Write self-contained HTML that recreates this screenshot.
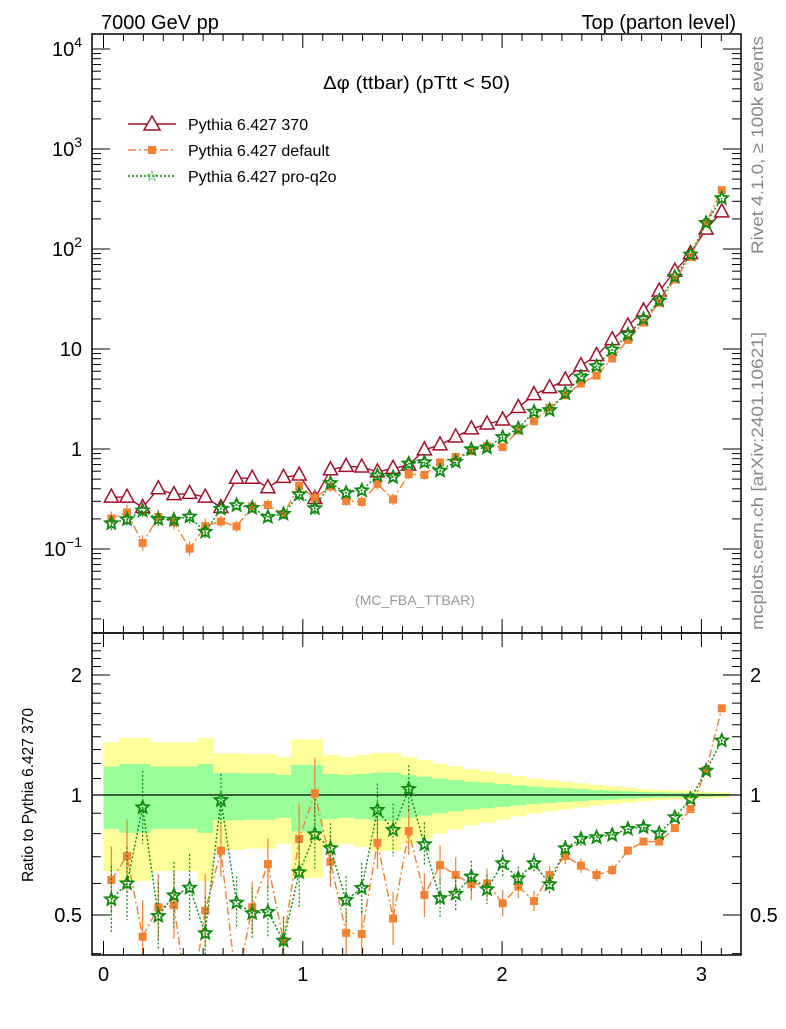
<!DOCTYPE html>
<html><head><meta charset="utf-8"><style>
body{margin:0;background:#fff;width:786px;height:1024px;overflow:hidden}
svg text{font-family:"Liberation Sans",sans-serif}
</style></head><body>
<svg id="c" width="786" height="1024" viewBox="0 0 786 1024" xmlns="http://www.w3.org/2000/svg">
<text x="101" y="29" font-size="20">7000 GeV pp</text>
<text x="736" y="29" font-size="20" text-anchor="end">Top (parton level)</text>
<text x="323" y="89" font-size="18" textLength="187" lengthAdjust="spacingAndGlyphs">Δφ (ttbar) (pTtt &lt; 50)</text>
<text x="415" y="605" font-size="14" fill="#999" text-anchor="middle">(MC_FBA_TTBAR)</text>
<text transform="translate(763,145) rotate(-90)" font-size="17" fill="#888" text-anchor="middle" textLength="218" lengthAdjust="spacingAndGlyphs">Rivet 4.1.0, ≥ 100k events</text>
<text transform="translate(763,481) rotate(-90)" font-size="17" fill="#888" text-anchor="middle" textLength="298" lengthAdjust="spacingAndGlyphs">mcplots.cern.ch [arXiv:2401.10621]</text>
<text transform="translate(33,795) rotate(-90)" font-size="15.5" text-anchor="middle">Ratio to Pythia 6.427 370</text>
<g>
<g><line x1="128" y1="124" x2="176" y2="124" stroke="#a0102a" stroke-width="1.5"/><path d="M152,116 L160,130 L144,130 Z" fill="#fff" stroke="#a0102a" stroke-width="1.5"/><text x="188" y="130" font-size="16">Pythia 6.427 370</text></g>
<g><line x1="128" y1="150" x2="176" y2="150" stroke="#f58233" stroke-width="1.5" stroke-dasharray="8,3,2,3"/><rect x="148" y="146" width="8" height="8" fill="#f58233"/><text x="188" y="156" font-size="16">Pythia 6.427 default</text></g>
<g><line x1="128" y1="176" x2="176" y2="176" stroke="#118811" stroke-width="1.5" stroke-dasharray="2,2"/><text x="152" y="181" font-size="15" fill="#118811" text-anchor="middle">☆</text><text x="188" y="182" font-size="16">Pythia 6.427 pro-q2o</text></g>
</g>
<g id="g"></g>
</svg>
<script>
const ref370=[0.33,0.33,0.26,0.40,0.35,0.36,0.33,0.26,0.51,0.51,0.41,0.52,0.55,0.32,0.62,0.67,0.66,0.59,0.64,0.69,0.98,1.1,1.32,1.59,1.78,1.95,2.6,3.5,4.1,4.9,6.8,8.6,12.4,17,24,38,60,90,158,235];
const ratioDefault=[0.612,0.703,0.441,0.523,0.529,0.28,0.513,0.725,0.33,0.523,0.671,0.43,0.776,1.01,0.680,0.451,0.448,0.759,0.490,0.812,0.561,0.667,0.630,0.597,0.600,0.535,0.589,0.542,0.630,0.703,0.665,0.630,0.648,0.725,0.764,0.764,0.826,0.922,1.155,1.65];
const ratioProQ2o=[0.547,0.600,0.931,0.497,0.560,0.585,0.450,0.971,0.537,0.505,0.509,0.431,0.640,0.797,0.735,0.545,0.584,0.917,0.817,1.035,0.752,0.551,0.565,0.624,0.580,0.674,0.618,0.674,0.597,0.735,0.776,0.783,0.794,0.822,0.830,0.801,0.879,0.977,1.151,1.369];
const relErr=[0.178,0.196,0.196,0.178,0.178,0.178,0.196,0.136,0.136,0.133,0.133,0.123,0.19,0.19,0.13,0.123,0.13,0.138,0.138,0.123,0.112,0.10,0.09,0.08,0.074,0.066,0.058,0.05,0.045,0.04,0.035,0.03,0.026,0.022,0.018,0.015,0.013,0.012,0.01,0.008];
const mainTickExp=[-1,0,1,2,3,4];
const NS="http://www.w3.org/2000/svg";
const G=document.getElementById('g');
const L=92,R=741,T=34,MB=633,RB=955;
const X=v=>103.5+199.3*v;
const YM=v=>449-100*Math.log10(v);
const YR=v=>795-120*Math.log2(v);
const n=ref370.length,bw=Math.PI/n;
function el(tag,a,parent){const e=document.createElementNS(NS,tag);for(const k in a)e.setAttribute(k,a[k]);(parent||G).appendChild(e);return e;}
const defs=el('defs',{});
const c1=el('clipPath',{id:'cm'},defs);el('rect',{x:L,y:T,width:R-L,height:MB-T},c1);
const c2=el('clipPath',{id:'cr'},defs);el('rect',{x:L,y:MB,width:R-L,height:RB-MB},c2);
const bands=el('g',{'clip-path':'url(#cr)'});


for(let i=0;i<n;i++){const x0=X(i*bw),x1=X((i+1)*bw)+0.5;
const y=el('rect',{x:x0,y:YR(1+2*relErr[i]),width:x1-x0,height:YR(Math.max(1-2*relErr[i],0.35))-YR(1+2*relErr[i]),fill:'#ffff99'},bands);


const g=el('rect',{x:x0,y:YR(1+relErr[i]),width:x1-x0,height:YR(1-relErr[i])-YR(1+relErr[i]),fill:'#99ff99'},bands);

}
el('line',{x1:L,x2:R,y1:YR(1),y2:YR(1),stroke:'#000','stroke-width':1.2});
function star(cx,cy,r,col,parent){let p='';for(let k=0;k<10;k++){const a=-Math.PI/2+k*Math.PI/5,rr=k%2?r*0.45:r;p+=(k?'L':'M')+(cx+rr*Math.cos(a)).toFixed(1)+','+(cy+rr*Math.sin(a)).toFixed(1);}return el('path',{d:p+'Z',fill:'none',stroke:col,'stroke-width':1.8},parent);}
function series(vals,Y,clip,kind,name,errScale){
const g=el('g',{'clip-path':'url(#'+clip+')'});


let col=kind=='tri'?'#a0102a':kind=='sq'?'#f58233':'#118811';
let dash=kind=='tri'?'':kind=='sq'?'8,3,2,3':'2,2';
const pts=vals.map((v,i)=>X((i+0.5)*bw).toFixed(1)+','+Y(v).toFixed(1)).join(' ');
el('polyline',{points:pts,fill:'none',stroke:col,'stroke-width':1.4,'stroke-dasharray':dash},g);
vals.forEach((v,i)=>{const cx=X((i+0.5)*bw),cy=Y(v);const e=relErr[i]*errScale;
el('line',{x1:cx,x2:cx,y1:Y(v*(1+e)),y2:Y(v/(1+e)),stroke:col,'stroke-width':1.2,'stroke-dasharray':kind=='pq'?'2,2':''},g);
let m;
if(kind=='tri')m=el('path',{d:`M${cx},${cy-8}L${cx+7},${cy+5}L${cx-7},${cy+5}Z`,fill:'#fff',stroke:col,'stroke-width':1.5},g);
else if(kind=='sq')m=el('rect',{x:cx-4,y:cy-4,width:8,height:8,fill:col},g);
else m=star(cx,cy,6.5,col,g);

});}
const def=ref370.map((v,i)=>v*ratioDefault[i]);
const pq=ref370.map((v,i)=>v*ratioProQ2o[i]);
series(ref370,YM,'cm','tri','series-370',0.2);
series(def,YM,'cm','sq','series-default',1.0);
series(pq,YM,'cm','pq','series-pro-q2o',1.0);
series(ratioDefault,YR,'cr','sq','ratio-default',1.2);
series(ratioProQ2o,YR,'cr','pq','ratio-pro-q2o',1.2);
el('rect',{x:L,y:T,width:R-L,height:MB-T,fill:'none',stroke:'#000','stroke-width':1.5});
el('rect',{x:L,y:MB,width:R-L,height:RB-MB,fill:'none',stroke:'#000','stroke-width':1.5});
for(let v=0;v<=3.2;v+=0.1){const x=X(v);if(x<L||x>R)continue;const maj=Math.abs(v-Math.round(v))<1e-6;const len=maj?14:7;
[T,MB].forEach(y=>el('line',{x1:x,x2:x,y1:y,y2:y+len,stroke:'#000'}));
[MB,RB].forEach(y=>el('line',{x1:x,x2:x,y1:y,y2:y-len,stroke:'#000'}));
if(maj){const t=el('text',{x:x,y:981,'font-size':20,'text-anchor':'middle'});t.textContent=Math.round(v);

}}
for(let d=-2;d<=4;d++){for(let m=1;m<10;m++){const y=YM(m*Math.pow(10,d));if(y<T||y>MB)continue;const len=m==1?18:9;
el('line',{x1:L,x2:L+len,y1:y,y2:y,stroke:'#000'});el('line',{x1:R,x2:R-len,y1:y,y2:y,stroke:'#000'});}}
mainTickExp.forEach(e=>{const y=YM(Math.pow(10,e))+7;
const t=el('text',{x:82,y:y,'font-size':20,'text-anchor':'end'});


if(e==0)t.textContent='1';else if(e==1)t.textContent='10';else{
t.appendChild(document.createTextNode('10'));const s=el('tspan',{dy:-9,'font-size':14},t);s.textContent=e<0?'−1':String(e);}});
for(let v=0.4;v<=2.5;v+=0.1){const y=YR(v);if(y<MB||y>RB)continue;const maj=[0.5,1,2].some(q=>Math.abs(q-v)<1e-6);const len=maj?18:9;
el('line',{x1:L,x2:L+len,y1:y,y2:y,stroke:'#000'});el('line',{x1:R,x2:R-len,y1:y,y2:y,stroke:'#000'});}
[["0.5",0.5],["1",1],["2",2]].forEach(([s,v])=>{[[82,'end'],[750,'start']].forEach(([x,a])=>{const t=el('text',{x:x,y:YR(v)+7,'font-size':20,'text-anchor':a});t.textContent=s;

});});
</script>
</body></html>
